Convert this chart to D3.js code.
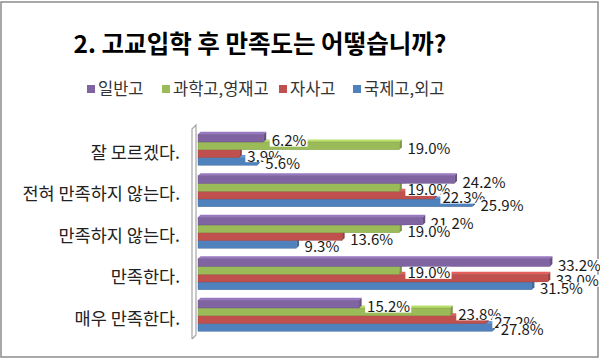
<!DOCTYPE html>
<html><head><meta charset="utf-8">
<script src="https://cdn.jsdelivr.net/npm/d3@7"></script>
<style>
html,body{margin:0;padding:0;background:#fff;}
svg{display:block;font-family:"Noto Sans CJK KR","Noto Sans",sans-serif;}
</style></head>
<body>
<script>
const categories = ["잘 모르겠다.", "전혀 만족하지 않는다.", "만족하지 않는다.", "만족한다.", "매우 만족한다."];
const seriesNames = ["일반고", "과학고,영재고", "자사고", "국제고,외고"];
const seriesColors = ["#8064A2", "#9BBB59", "#C0504D", "#4F81BD"];
const general = [6.2, 24.2, 21.2, 33.2, 15.2];
const science = [19.0, 19.0, 19.0, 19.0, 23.8];
const autonomous = [3.9, 22.3, 13.6, 33.0, 27.2];
const international = [5.6, 25.9, 9.3, 31.5, 27.8];
const seriesValues = [general, science, autonomous, international];
const titleText = "2. 고교입학 후 만족도는 어떻습니까?";

const W = 600, H = 361;
const svg = d3.select("body").append("svg").attr("width", W).attr("height", H);

// frame
svg.append("rect").attr("x", 1).attr("y", 2).attr("width", 597).attr("height", 355)
  .attr("fill", "#fff").attr("stroke", "#8c8c8c").attr("stroke-width", 1.5);

// title
svg.append("text").attr("x", 260).attr("y", 53).attr("text-anchor", "middle")
  .attr("font-size", 24.5).attr("font-weight", "bold").attr("fill", "#000").text(titleText);

// legend
const legendX = [87, 162, 279, 353];
const lg = svg.append("g");
seriesNames.forEach((n, i) => {
  lg.append("rect").attr("x", legendX[i]).attr("y", 85).attr("width", 8).attr("height", 8).attr("fill", seriesColors[i]);
  lg.append("text").attr("x", legendX[i] + 11).attr("y", 95).attr("font-size", 16.5).attr("fill", "#333").text(n);
});

// scales
const x = d3.scaleLinear().domain([0, 35]).range([198, 569]);
const y = d3.scaleBand().domain(categories).range([129, 336.5]).padding(0);
const ySub = d3.scaleBand().domain(d3.range(4)).range([5.25, 36.25]).padding(0);

// wall
const d = 4;
const wall = svg.append("g").attr("fill", "none").attr("stroke", "#a6a6a6").attr("stroke-width", 1.2);
wall.append("path").attr("d", `M192,339 L192,129 L${192 + d},125 L${192 + d},335 L192,339 L${192 + d},335`);

// category labels
svg.append("g").selectAll("text").data(categories).join("text")
  .attr("x", 180).attr("y", c => y(c) + y.bandwidth() / 2 + 9)
  .attr("text-anchor", "end").attr("font-size", 17.5).attr("fill", "#222").text(c => c);

// bars (draw bottom series first so upper bars cover top faces)
const dd = 2.5;
const barG = svg.append("g");
for (let s = 3; s >= 0; s--) {
  const col = d3.color(seriesColors[s]);
  const light = col.brighter(0.5).formatHex();
  const dark = col.darker(0.6).formatHex();
  categories.forEach((c, ci) => {
    const v = seriesValues[s][ci];
    const y0 = y(c) + ySub(s);
    const h = ySub.bandwidth();
    const x0 = x(0), x1 = x(v);
    barG.append("polygon")
      .attr("points", `${x0},${y0} ${x1},${y0} ${x1 + dd},${y0 - dd} ${x0 + dd},${y0 - dd}`)
      .attr("fill", light);
    barG.append("polygon")
      .attr("points", `${x1},${y0} ${x1 + dd},${y0 - dd} ${x1 + dd},${y0 + h - dd} ${x1},${y0 + h}`)
      .attr("fill", dark);
    barG.append("rect").attr("x", x0).attr("y", y0).attr("width", x1 - x0).attr("height", h)
      .attr("fill", seriesColors[s]).attr("stroke", dark).attr("stroke-width", 0.4);
  });
}

// value labels
const labG = svg.append("g");
for (let s = 0; s < 4; s++) {
  categories.forEach((c, ci) => {
    const v = seriesValues[s][ci];
    const cy = y(c) + ySub(s) + ySub.bandwidth() / 2 + 2.5;
    const t = labG.append("text").attr("x", x(v) + 8).attr("y", cy + 5.5)
      .attr("font-size", 15).attr("fill", "#1a1a1a").text(v.toFixed(1) + "%");
    const bb = t.node().getBBox();
    labG.insert("rect", () => t.node()).attr("x", bb.x - 2).attr("y", cy - 6).attr("width", bb.width + 3).attr("height", 12).attr("fill", "#fff");
  });
}
</script>
</body></html>
